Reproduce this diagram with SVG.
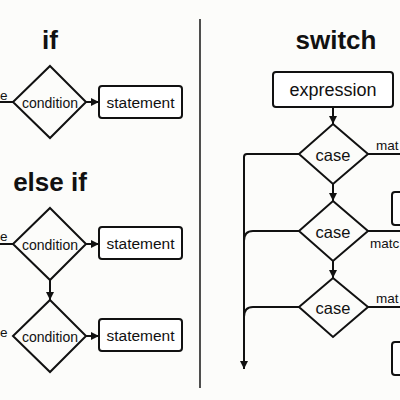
<svg xmlns="http://www.w3.org/2000/svg" width="400" height="400" viewBox="0 0 400 400">
<defs>
<style>
.sh{fill:none;stroke:#111;stroke-width:2;stroke-linejoin:miter}
.bx{fill:#fff;stroke:#111;stroke-width:2}
.ln{fill:none;stroke:#111;stroke-width:2}
.ttl{font-family:"Liberation Sans",Arial,sans-serif;font-weight:bold;font-size:26px;fill:#111;text-anchor:middle}
.t{font-family:"Liberation Sans",Arial,sans-serif;fill:#111;text-anchor:middle;dominant-baseline:central}
.s{font-family:"Liberation Sans",Arial,sans-serif;fill:#111;font-size:13.5px}
</style>
<marker id="ah" markerUnits="userSpaceOnUse" markerWidth="8" markerHeight="8" refX="8" refY="4" orient="auto">
<path d="M0,0 L8,4 L0,8 z" fill="#111"/>
</marker>
</defs>
<rect width="400" height="400" fill="#fcfcfa"/>
<line x1="200" y1="19" x2="200" y2="388" stroke="#222" stroke-width="1.6"/>
<text class="ttl" x="50" y="49">if</text>
<text class="ttl" x="50" y="191">else if</text>
<text class="ttl" x="336" y="49">switch</text>
<g id="connectors">
<line class="ln" x1="0" y1="102" x2="13" y2="102"/>
<line class="ln" x1="86" y1="102" x2="99" y2="102" marker-end="url(#ah)"/>
<line class="ln" x1="0" y1="244" x2="13" y2="244"/>
<line class="ln" x1="86" y1="244" x2="99" y2="244" marker-end="url(#ah)"/>
<line class="ln" x1="50" y1="280" x2="50" y2="300" marker-end="url(#ah)"/>
<line class="ln" x1="86" y1="336" x2="99" y2="336" marker-end="url(#ah)"/>
<line class="ln" x1="333" y1="107" x2="333" y2="124" marker-end="url(#ah)"/>
<line class="ln" x1="333" y1="184" x2="333" y2="201" marker-end="url(#ah)"/>
<line class="ln" x1="333" y1="261" x2="333" y2="278" marker-end="url(#ah)"/>
<path class="ln" d="M299,154 H247 Q244,154 244,157 V369" marker-end="url(#ah)"/>
<path class="ln" d="M299,231 H253 Q244,231 244,241"/>
<path class="ln" d="M299,307 H253 Q244,307 244,317"/>
<line class="ln" x1="368" y1="154" x2="401" y2="154"/>
<line class="ln" x1="368" y1="231" x2="401" y2="231"/>
<line class="ln" x1="368" y1="307" x2="401" y2="307"/>
<text class="s" x="0" y="100">e</text>
<text class="s" x="0" y="241">e</text>
<text class="s" x="0" y="337">e</text>
<text class="s" x="376" y="150">mat</text>
<text class="s" x="370" y="248">matc</text>
<text class="s" x="376" y="303">mat</text>
</g>
<g id="cond1">
<polygon class="sh" points="50,66 86,102 50,138 13,102"/>
<text class="t" x="50" y="103" font-size="14">condition</text>
</g>
<g id="stmt1">
<rect class="bx" x="99" y="86" width="83" height="32" rx="3"/>
<text class="t" x="140.5" y="102" font-size="15.5">statement</text>
</g>
<g id="cond2">
<polygon class="sh" points="50,208 86,244 50,280 13,244"/>
<text class="t" x="50" y="245" font-size="14">condition</text>
</g>
<g id="stmt2">
<rect class="bx" x="99" y="227" width="83" height="32" rx="3"/>
<text class="t" x="140.5" y="243" font-size="15.5">statement</text>
</g>
<g id="cond3">
<polygon class="sh" points="50,300 86,336 50,372 13,336"/>
<text class="t" x="50" y="337" font-size="14">condition</text>
</g>
<g id="stmt3">
<rect class="bx" x="99" y="319" width="83" height="32" rx="3"/>
<text class="t" x="140.5" y="335" font-size="15.5">statement</text>
</g>
<g id="expression">
<rect class="bx" x="273" y="72" width="120" height="35" rx="3"/>
<text class="t" x="333" y="90" font-size="18">expression</text>
</g>
<g id="case1">
<polygon class="sh" points="333,124 368,154 333,184 299,154"/>
<text class="t" x="333" y="155" font-size="16.5">case</text>
</g>
<g id="case2">
<polygon class="sh" points="333,201 368,231 333,261 299,231"/>
<text class="t" x="333" y="232" font-size="16.5">case</text>
</g>
<g id="case3">
<polygon class="sh" points="333,278 368,307 333,337 299,307"/>
<text class="t" x="333" y="308" font-size="16.5">case</text>
</g>
<g id="box1">
<rect class="bx" x="392" y="192" width="30" height="33" rx="3"/>
</g>
<g id="box2">
<rect class="bx" x="392" y="342" width="30" height="33" rx="3"/>
</g>
</svg>
